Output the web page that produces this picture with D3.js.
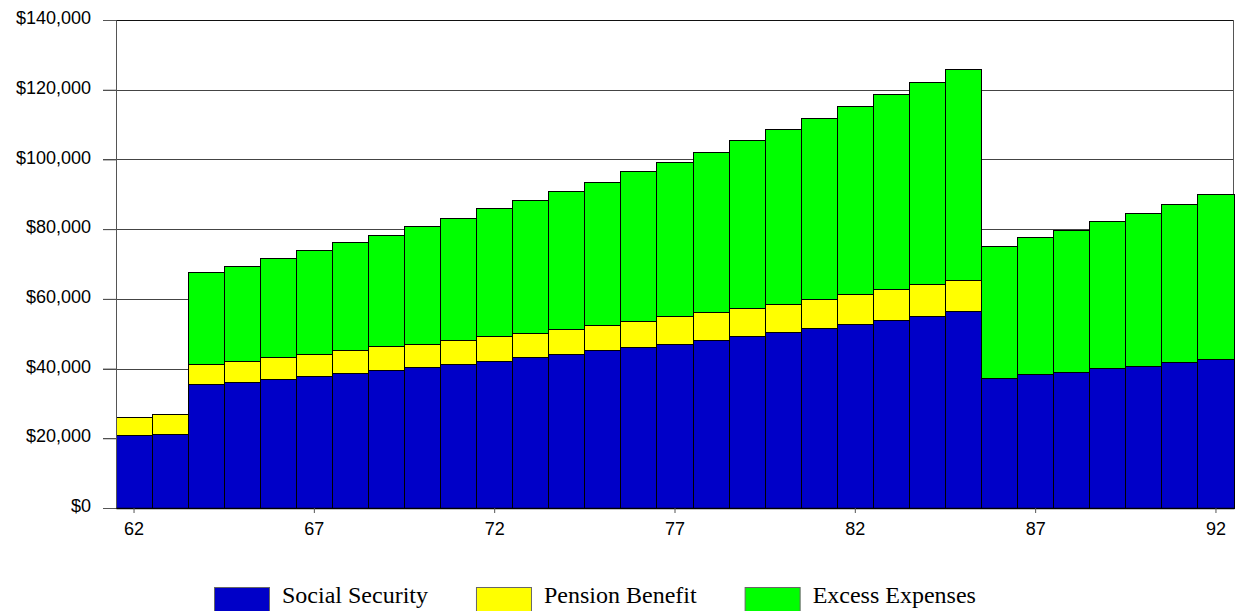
<!DOCTYPE html>
<html>
<head>
<meta charset="utf-8">
<script src="https://cdn.jsdelivr.net/npm/d3@7"></script>
<style>
  html, body { margin: 0; padding: 0; background: #fff; }
  svg { display: block; }
</style>
</head>
<body>
<svg id="chart" width="1236" height="611"></svg>
<script>
// Annual income sources by age
const ages = [62, 63, 64, 65, 66, 67, 68, 69, 70, 71, 72, 73, 74, 75, 76, 77,
              78, 79, 80, 81, 82, 83, 84, 85, 86, 87, 88, 89, 90, 91, 92];

const socialSecurity = [20700, 21000, 35300, 36100, 36900, 37800, 38500, 39400, 40400, 41200,
                        42100, 43200, 44000, 45100, 46100, 47000, 48100, 49200, 50300, 51400,
                        52700, 53800, 55000, 56400, 37200, 38200, 39000, 39900, 40700, 41600, 42700];

const pensionBenefit = [5400, 5700, 5900, 6000, 6300, 6300, 6600, 6800, 6600, 6900,
                        7100, 7000, 7300, 7300, 7500, 7900, 7900, 8000, 8200, 8500,
                        8600, 8900, 9000, 9000, 0, 0, 0, 0, 0, 0, 0];

const excessExpenses = [0, 0, 26400, 27300, 28500, 29800, 31000, 32100, 33700, 34900,
                        36600, 38000, 39600, 40900, 42900, 44300, 46100, 48100, 50000, 51900,
                        53800, 55800, 58000, 60500, 37800, 39300, 40700, 42300, 43900, 45500, 47100];

const seriesNames = ["Social Security", "Pension Benefit", "Excess Expenses"];
const seriesColors = ["#0000C8", "#FFFF00", "#00FF00"];

const yTicks = [0, 20000, 40000, 60000, 80000, 100000, 120000, 140000];
const xTickAges = [62, 67, 72, 77, 82, 87, 92];

// Table for the stack layout
const rows = ages.map((age, i) => ({
  age,
  "Social Security": socialSecurity[i],
  "Pension Benefit": pensionBenefit[i],
  "Excess Expenses": excessExpenses[i]
}));

const svg = d3.select("#chart");
const plot = { left: 116, right: 1234, top: 20, bottom: 508 };

const x = d3.scaleBand()
  .domain(ages)
  .range([plot.left, plot.right])
  .paddingInner(0)
  .paddingOuter(0);

const y = d3.scaleLinear()
  .domain([0, 140000])
  .range([plot.bottom, plot.top]);

const color = d3.scaleOrdinal().domain(seriesNames).range(seriesColors);

// Horizontal grid lines (with the short outside ticks on the left)
svg.append("g")
  .selectAll("line")
  .data(yTicks.filter(d => d > 0))
  .join("line")
  .attr("x1", plot.left - 13)
  .attr("x2", plot.right)
  .attr("y1", d => Math.round(y(d)) + 0.5)
  .attr("y2", d => Math.round(y(d)) + 0.5)
  .attr("stroke", d => d === 140000 ? "#111" : "#444")
  .attr("stroke-width", 1);

// Right frame edge
svg.append("line")
  .attr("x1", plot.right - 0.5).attr("x2", plot.right - 0.5)
  .attr("y1", plot.top).attr("y2", plot.bottom)
  .attr("stroke", "#555");

// Stacked bars
const stacked = d3.stack().keys(seriesNames)(rows);

svg.append("g")
  .attr("shape-rendering", "crispEdges")
  .selectAll("g")
  .data(stacked)
  .join("g")
  .attr("fill", d => color(d.key))
  .selectAll("rect")
  .data(d => d.filter(s => s[1] - s[0] > 0))
  .join("rect")
  .attr("x", d => x(d.data.age))
  .attr("width", x.bandwidth())
  .attr("y", d => y(d[1]))
  .attr("height", d => y(d[0]) - y(d[1]))
  .attr("stroke", "#000")
  .attr("stroke-width", 1);

// Y axis
const yAxis = svg.append("g")
  .attr("transform", `translate(${plot.left},0)`)
  .call(d3.axisLeft(y)
    .tickValues(yTicks)
    .tickSize(13)
    .tickPadding(12)
    .tickFormat(d => "$" + d3.format(",")(d)));
yAxis.select(".domain").attr("stroke", "#555");
yAxis.selectAll(".tick line").attr("stroke", "#555");
yAxis.selectAll("text")
  .attr("font-family", "'Liberation Sans', Arial, sans-serif")
  .attr("font-size", 18)
  .attr("fill", "#000")
  .attr("dy", "0.2em");

// X axis
const xAxis = svg.append("g")
  .attr("transform", `translate(0,${plot.bottom})`)
  .call(d3.axisBottom(x)
    .tickValues(xTickAges)
    .tickSize(5)
    .tickPadding(9)
    .tickSizeOuter(0));
xAxis.select(".domain").attr("stroke", "#000").attr("stroke-width", 1.5);
xAxis.selectAll(".tick line").attr("stroke", "#555");
xAxis.selectAll("text")
  .attr("font-family", "'Liberation Sans', Arial, sans-serif")
  .attr("font-size", 18)
  .attr("fill", "#000");

// Legend
const legend = svg.append("g");
let lx = 214;
seriesNames.forEach(name => {
  legend.append("rect")
    .attr("x", lx + 0.5).attr("y", 587.5)
    .attr("width", 55).attr("height", 30)
    .attr("fill", color(name))
    .attr("stroke", "#666");
  const t = legend.append("text")
    .attr("x", lx + 68).attr("y", 603)
    .attr("font-family", "'Liberation Serif', 'Times New Roman', serif")
    .attr("font-size", 24)
    .attr("fill", "#000")
    .text(name);
  lx = lx + 68 + t.node().getComputedTextLength() + 48;
});
</script>
</body>
</html>
